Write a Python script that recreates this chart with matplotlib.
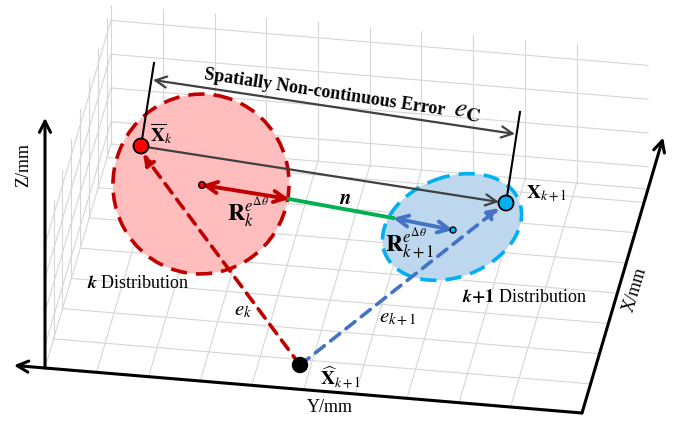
import numpy as np
import matplotlib.pyplot as plt
from matplotlib.patches import Ellipse, Circle

plt.rcParams['font.family'] = ['Liberation Serif', 'DejaVu Serif']
plt.rcParams['mathtext.fontset'] = 'stix'

# box geometry (pixels): front-left corner and the three edge vectors
FRONT_LEFT = np.array([45, 368])
EDGE_Y = np.array([537, 45])
EDGE_X = np.array([66, -224])
EDGE_Z = np.array([0, -139])

# grid ticks as fractions of each box edge
X_TICKS = [0.13, 0.265, 0.40, 0.535, 0.67, 0.805, 0.94]
Y_TICKS = [0.0, 0.096, 0.193, 0.289, 0.385, 0.482, 0.578, 0.674, 0.771, 0.867]
Z_TICKS = [0.16, 0.403, 0.646, 0.889]

# key points (pixel coords)
XBAR_K = (141, 146)
X_K1 = (506, 203)
XHAT_K1 = (300, 365)
CENTER_K = (202, 185)
CENTER_K1 = (453, 230)
EDGE_K = (289, 199)
EDGE_K1 = (393, 218)
EC_LEFT = (153, 80)
EC_RIGHT = (515, 134)
STEM_K = (154, 63)
STEM_K1 = (520, 112)

# distributions: center, width, height, angle
ELL_K = ((201, 184), 176, 180, 10)
ELL_K1 = ((452, 227), 144, 100, -21)

RED = '#C00000'
BLUE = '#4472C4'
CYAN = '#00B0F0'
GRID = '#d6d6d6'
DARK = '#404040'


def proj(x, y, z):
    return FRONT_LEFT + x * EDGE_X + y * EDGE_Y + z * EDGE_Z


def seg(ax, p, q, **kw):
    ax.plot([p[0], q[0]], [p[1], q[1]], **kw)


def arrow(ax, start, end, style, color, lw, ls='-', scale=18, z=3):
    ax.annotate('', xy=end, xytext=start,
                arrowprops=dict(arrowstyle=style, color=color, lw=lw, linestyle=ls,
                                mutation_scale=scale, shrinkA=0, shrinkB=0),
                zorder=z)


fig = plt.figure(figsize=(6.76, 4.23), dpi=100)
ax = fig.add_axes([0, 0, 1, 1])
ax.set_xlim(0, 676)
ax.set_ylim(423, 0)
ax.axis('off')

g = dict(color=GRID, lw=0.8, zorder=0)
# floor
for xt in X_TICKS:
    seg(ax, proj(xt, 0, 0), proj(xt, 1, 0), **g)
for yt in Y_TICKS:
    seg(ax, proj(0, yt, 0), proj(1, yt, 0), **g)
seg(ax, proj(1, 0, 0), proj(1, 1, 0), **g)
# back wall
for zt in Z_TICKS:
    seg(ax, proj(1, 0, zt), proj(1, 1, zt), **g)
for yt in Y_TICKS:
    seg(ax, proj(1, yt, 0), proj(1, yt, 1), **g)
# left wall
for zt in Z_TICKS:
    seg(ax, proj(0, 0, zt), proj(1, 0, zt), **g)
for xt in X_TICKS:
    seg(ax, proj(xt, 0, 0), proj(xt, 0, 1), **g)

# black axes
arrow(ax, proj(0, 1, 0), proj(0, -0.058, 0), '->', 'black', 2.2, scale=20)
arrow(ax, proj(0, 1, 0), proj(1.23, 1, 0), '->', 'black', 2.2, scale=20)
arrow(ax, proj(0, 0, 0), proj(0, 0, 1.8), '->', 'black', 2.2, scale=20)

ax.text(330, 408, 'Y/mm', fontsize=13, ha='center', va='center')
ax.text(24, 165, 'Z/mm', fontsize=13, ha='center', va='center', rotation=90)
ax.text(635, 290, 'X/mm', fontsize=13, ha='center', va='center', rotation=73)

# distributions
c, w, h, a = ELL_K
ax.add_patch(Ellipse(c, w, h, angle=a, facecolor='#FFBDBD', edgecolor='none', zorder=1))
ax.add_patch(Ellipse(c, w, h, angle=a, facecolor='none', edgecolor=RED, lw=2.6,
                     linestyle=(0, (4.5, 2.5)), zorder=2))
c, w, h, a = ELL_K1
ax.add_patch(Ellipse(c, w, h, angle=a, facecolor='#BDD7EE', edgecolor='none', zorder=1))
ax.add_patch(Ellipse(c, w, h, angle=a, facecolor='none', edgecolor=CYAN, lw=2.6,
                     linestyle=(0, (4.5, 2.5)), zorder=2))

# stems and spatial error arrow
seg(ax, XBAR_K, STEM_K, color='black', lw=1.5, zorder=3)
seg(ax, X_K1, STEM_K1, color='black', lw=1.5, zorder=3)
arrow(ax, EC_LEFT, EC_RIGHT, '<->', DARK, 1.6, scale=20)
ax.text(204, 79, 'Spatially Non-continuous Error', fontsize=13, fontweight='bold',
        fontfamily='Liberation Serif', ha='left', va='baseline', rotation=-8.5,
        rotation_mode='anchor', zorder=4)
ax.text(453, 114, r'$e_{\mathbf{C}}$', fontsize=20, ha='left', va='baseline',
        rotation=-8.5, rotation_mode='anchor', zorder=4)
arrow(ax, (XBAR_K[0] + 5, XBAR_K[1] + 1), (X_K1[0] - 7, X_K1[1] - 1), '->', DARK, 1.6, scale=20)

# estimate errors
arrow(ax, XHAT_K1, (XBAR_K[0] + 2, XBAR_K[1] + 8), '-|>', RED, 2.6, ls=(0, (3.2, 2.2)), scale=16)
arrow(ax, XHAT_K1, (X_K1[0] - 7, X_K1[1] + 5), '-|>', BLUE, 2.6, ls=(0, (3.2, 2.2)), scale=16)

# normal between distributions
seg(ax, EDGE_K, EDGE_K1, color='#00B050', lw=2.8, zorder=3)
arrow(ax, CENTER_K, EDGE_K, '<->', RED, 2.8, scale=20)
arrow(ax, EDGE_K1, CENTER_K1, '<->', BLUE, 2.8, scale=20)

# points
ax.add_patch(Circle(XBAR_K, 7.5, facecolor='red', edgecolor='black', lw=1.3, zorder=5))
ax.add_patch(Circle(X_K1, 7.5, facecolor=CYAN, edgecolor='black', lw=1.3, zorder=5))
ax.add_patch(Circle(XHAT_K1, 7.5, facecolor='black', edgecolor='black', zorder=5))
ax.add_patch(Circle(CENTER_K, 3.3, facecolor='red', edgecolor='black', lw=1, zorder=5))
ax.add_patch(Circle(CENTER_K1, 3.0, facecolor=CYAN, edgecolor='black', lw=1, zorder=5))

# labels
ax.text(150, 134, r'$\overline{\mathbf{X}}_{k}$', fontsize=14, ha='left', va='center')
ax.text(526, 194, r'$\mathbf{X}_{k+1}$', fontsize=14, ha='left', va='center')
ax.text(320, 378, r'$\widehat{\mathbf{X}}_{k+1}$', fontsize=14, ha='left', va='center')
ax.text(227, 212, r'$\mathbf{R}_{k}^{e^{\Delta\theta}}$', fontsize=17, ha='left', va='center')
ax.text(385, 244, r'$\mathbf{R}_{k+1}^{e^{\Delta\theta}}$', fontsize=17, ha='left', va='center')
ax.text(345, 199, r'$\boldsymbol{n}$', fontsize=15, ha='center', va='center')
ax.text(243, 311, r'$e_{k}$', fontsize=15, ha='center', va='center')
ax.text(398, 318, r'$e_{k+1}$', fontsize=15, ha='center', va='center')
ax.text(87, 284, r'$\boldsymbol{k}$ Distribution', fontsize=13, ha='left', va='center')
ax.text(462, 297, r'$\boldsymbol{k}\mathbf{+1}$ Distribution', fontsize=13, ha='left', va='center')

fig.savefig('out.png', dpi=100)
